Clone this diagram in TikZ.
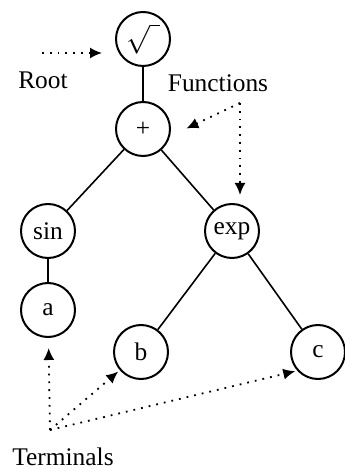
\documentclass[tikz,border=0pt]{standalone}
\usepackage{fontspec}
\setmainfont{Liberation Serif}
\usetikzlibrary{arrows.meta, positioning}

\begin{document}
\begin{tikzpicture}[
  x=0.5pt, y=-0.5pt,
  op/.style={draw, circle, line width=1pt, minimum size=27pt, inner sep=0pt, font=\fontsize{12.7}{15}\selectfont},
  lbl/.style={font=\fontsize{12.7}{15}\selectfont},
  edge/.style={line width=0.8pt},
  ptr/.style={-{Latex[length=6pt,width=5.5pt]}, line width=0.9pt, dash pattern=on 0.9pt off 3pt}
]
\useasboundingbox (0,0) rectangle (344,469);

\node[op] (sq) at (143,39) {\fontsize{15}{15}\selectfont$\sqrt{\rule{0pt}{10pt}\hspace{5pt}}$};
\node[op] (plus) at (143,129) {+};
\node[op] (sin) at (48,231) {sin};
\node[op] (exp) at (232,231) {exp};
\node[op] (a) at (48,310) {a};
\node[op] (b) at (141,352) {b};
\node[op] (c) at (318,352) {c};

\node[lbl] (root) at (43,80) {Root};
\node[lbl] (fun) at (218,83) {Functions};
\node[lbl] (term) at (63,457) {Terminals};

\coordinate (rootsrc) at (42,53);
\coordinate (funsrc) at (240,103);
\coordinate (termsrc) at (50,430);

% tree
\draw[edge] (sq) -- (plus);
\draw[edge] (plus) -- (sin);
\draw[edge] (plus) -- (exp);
\draw[edge] (sin) -- (a);
\draw[edge] (exp) -- (b);
\draw[edge] (exp) -- (c);

% pointers
\draw[ptr, shorten >=6.5pt] (rootsrc) -- (rootsrc -| sq.west);
\draw[ptr, shorten >=9pt] (funsrc) -- (plus.-15);
\draw[ptr, shorten >=4pt] (funsrc) -- (funsrc |- exp.north);
\draw[ptr, shorten >=5pt] (termsrc) -- (a);
\draw[ptr, shorten >=1pt] (termsrc) -- (b);
\draw[ptr, shorten >=1pt] (termsrc) -- (c.222);
\end{tikzpicture}
\end{document}
